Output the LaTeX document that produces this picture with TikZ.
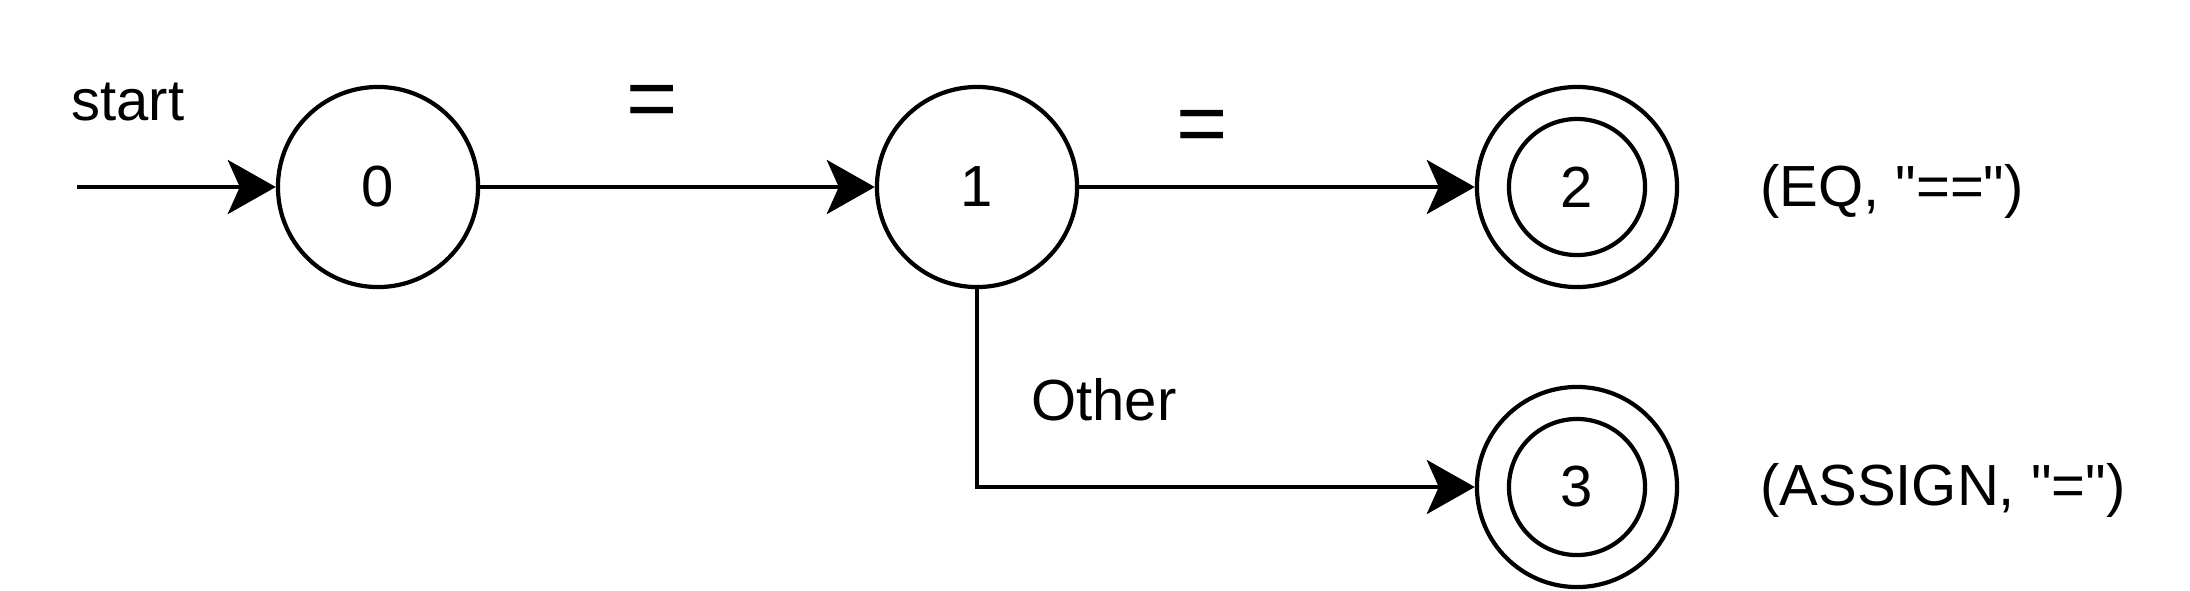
\documentclass[tikz,border=0pt]{standalone}
\usepackage{fontspec}
\setmainfont{Liberation Sans}
\usetikzlibrary{arrows.meta}
\tikzset{
  state/.style={draw, circle, line width=1.2pt, minimum size=2cm, inner sep=0pt,
    font=\fontsize{16.5pt}{20pt}\selectfont},
  inner state/.style={draw, circle, line width=1.2pt, minimum size=1.36cm, inner sep=0pt,
    font=\fontsize{16.5pt}{20pt}\selectfont},
  arr/.style={line width=1.2pt, -{Stealth[length=4.8mm, width=5.4mm, inset=1.2mm]}},
  lbl/.style={inner sep=0pt, anchor=base, font=\fontsize{16.5pt}{20pt}\selectfont},
  eqlbl/.style={inner sep=0pt, anchor=center, font=\fontsize{25pt}{29pt}\selectfont},
}
\begin{document}
\begin{tikzpicture}[x=0.01cm, y=-0.01cm]
\useasboundingbox (0,0) rectangle (2190,590);
\node[state] (q0) at (378,187) {0};
\node[state] (q1) at (977,187) {1};
\node[state] (q2) at (1577,187) {};
\node[inner state] (q2i) at (1577,187) {2};
\node[state] (q3) at (1577,487) {};
\node[inner state] (q3i) at (1577,487) {3};
\coordinate (s) at (77,187);
\draw[arr] (s) -- (q0);
\draw[arr] (q0) -- (q1);
\draw[arr] (q1) -- (q2);
\draw[arr] (q1.south) |- (q3.west);
\node[lbl] (tstart) at (128,120) {start};
\node[eqlbl] (e1) at (652,107) {=};
\node[eqlbl] (e2) at (1202,132) {=};
\node[lbl] (tother) at (1104,420) {Other};
\node[lbl] (teq) at (1892,206) {(EQ, \textquotedbl==\textquotedbl)};
\node[lbl] (tas) at (1943,505) {(ASSIGN, \textquotedbl=\textquotedbl)};
\end{tikzpicture}
\end{document}
